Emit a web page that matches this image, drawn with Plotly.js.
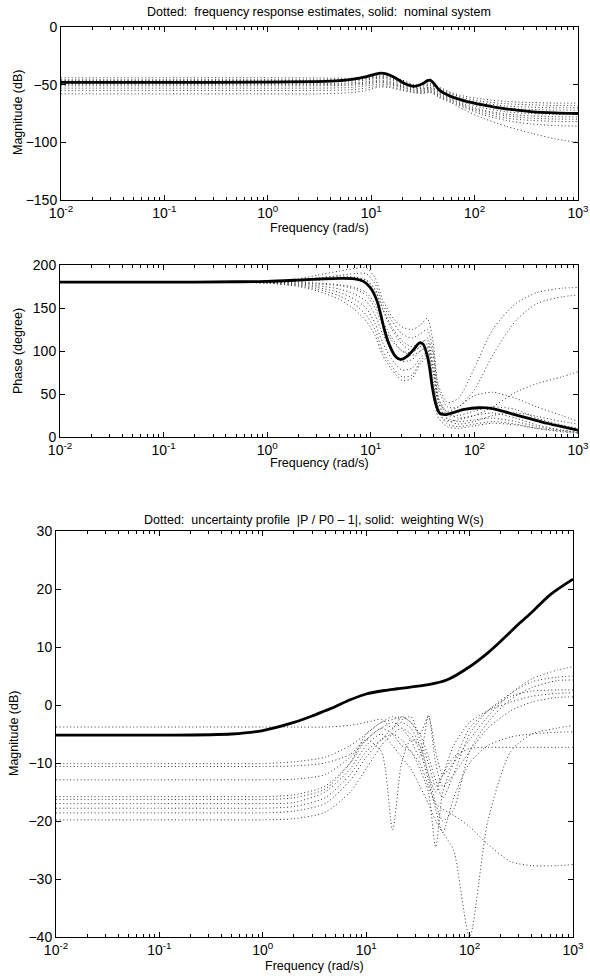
<!DOCTYPE html>
<html>
<head>
<meta charset="utf-8">
<script src="https://cdn.plot.ly/plotly-3.0.1.min.js"></script>
<style>html,body{margin:0;padding:0;background:#fff;}#chart{width:590px;height:980px;}</style>
</head>
<body>
<div id="chart"></div>
<script>
// ---------- Data: top panel (magnitude, dB) ----------
const magNomFreq = [0.01, 0.1, 1, 3, 5, 7, 9, 11, 12.5, 14, 17, 21, 26, 31, 35, 37, 40, 46, 60, 80, 120, 200, 350, 600, 1000];
const magNom = [-48, -48, -47.8, -47.3, -46.5, -45, -43, -40.8, -40, -40.7, -44, -49, -51.5, -49.5, -46.5, -46, -48.5, -55, -60.5, -64, -67.5, -71, -73.3, -74.5, -75];
const magEstFreq = [0.01, 0.1, 1, 3, 6, 9, 12, 15, 20, 26, 32, 37, 45, 60, 80, 120, 200, 350, 600, 1000];
const magEst1 = [-44, -44, -44, -44.2, -44.5, -43.5, -42, -42.5, -46, -50, -50, -49, -52, -57, -60, -62.5, -64.5, -65.5, -66, -66];
const magEst2 = [-45.7, -45.7, -45.7, -45.8, -45.5, -44.5, -43, -43.5, -47, -51, -51, -50, -53, -58, -61.5, -64.5, -66.5, -67.5, -68, -68];
const magEst3 = [-46.5, -46.5, -46.5, -46.5, -46, -45, -43.5, -44.5, -48, -52, -52, -50.5, -54, -59, -63, -66, -68.5, -69.5, -70, -70];
const magEst4 = [-47, -47, -47, -47, -47, -46, -44.5, -45.5, -49, -52.5, -53, -52, -55, -60, -64, -68, -70.5, -71.5, -72, -72];
const magEst5 = [-49, -49, -49, -49, -48.5, -47.5, -46, -47, -50, -53, -53.5, -52.5, -56, -61, -65.5, -70, -73.5, -75, -75.8, -76];
const magEst6 = [-50, -50, -50, -50, -49.5, -48.5, -47, -48, -51, -54, -54.5, -53, -57, -62, -67, -72, -75.5, -77, -77.8, -78];
const magEst7 = [-51, -51, -51, -51, -50.5, -49.5, -48, -49, -52, -55, -55, -54, -58, -63, -68, -73, -77, -79, -79.8, -80];
const magEst8 = [-53, -53, -53, -53, -52.5, -51, -49.5, -50, -52.5, -55.5, -56, -55, -59, -64, -69, -74.5, -79, -81, -81.8, -82];
const magEst9 = [-55, -55, -55, -55, -54.5, -53, -51, -51.5, -54, -56.5, -57, -56, -60, -65, -70, -76, -81, -84, -85.5, -86];
const magEst10 = [-58, -58, -58, -58, -57, -55, -52, -52.5, -55, -57, -57.5, -56.5, -61, -66, -72, -79, -86, -92, -97, -100];

// ---------- Data: middle panel (phase, degree) ----------
const phNomFreq = [0.01, 0.1, 0.5, 1, 2, 3, 5, 7, 8.5, 10, 11.5, 12.5, 13.5, 15, 17, 18.5, 20, 23, 26, 29.5, 32, 35, 37, 39, 42, 46, 52, 65, 80, 110, 150, 230, 350, 500, 700, 1000];
const phNom = [180, 180, 180.5, 181, 182.5, 183.5, 184.5, 184, 181, 173, 158, 142, 125, 108, 95, 91, 90.5, 95, 102, 109.5, 108, 95, 80, 60, 40, 28, 26, 29, 32, 34, 33, 27, 21, 16, 12, 8];
const phEstFreq = [0.01, 0.1, 0.5, 1, 2, 3, 5, 7, 9, 11, 13, 16, 20, 25, 30, 35, 40, 45, 55, 70, 100, 150, 250, 400, 700, 1000];
const phEst1 = [180, 180, 180, 181, 184, 188, 193, 196, 197, 185, 160, 140, 128, 125, 130, 138, 110, 60, 40, 45, 80, 125, 155, 168, 173, 174];
const phEst2 = [180, 180, 180, 180.5, 182, 184, 188, 190, 190, 178, 155, 135, 120, 115, 120, 125, 100, 55, 35, 35, 55, 95, 135, 155, 163, 165];
const phEst3 = [180, 180, 180, 180, 181, 182, 184, 185, 183, 172, 150, 128, 112, 105, 110, 112, 85, 45, 28, 22, 25, 35, 52, 62, 70, 76];
const phEst4 = [180, 180, 180, 180, 179, 178, 176, 172, 165, 150, 130, 112, 100, 98, 105, 108, 75, 40, 30, 35, 48, 52, 45, 35, 25, 18];
const phEst5 = [180, 180, 180, 180, 178, 176, 172, 166, 158, 142, 120, 100, 88, 90, 100, 103, 65, 35, 22, 18, 20, 22, 18, 12, 8, 6];
const phEst6 = [180, 180, 180, 179, 177, 174, 168, 160, 150, 132, 110, 90, 78, 80, 92, 98, 60, 30, 15, 12, 15, 18, 15, 10, 6, 4];
const phEst7 = [180, 180, 180, 179, 176, 172, 164, 154, 142, 125, 100, 82, 70, 72, 88, 95, 55, 28, 18, 20, 25, 28, 22, 14, 8, 5];
const phEst8 = [180, 180, 180, 179, 175, 170, 160, 148, 135, 118, 95, 78, 66, 68, 85, 92, 50, 22, 12, 10, 13, 16, 14, 10, 7, 5];
const phEst9 = [180, 180, 180, 181, 183, 185, 187, 186, 182, 170, 148, 125, 108, 100, 105, 115, 95, 45, 25, 25, 30, 35, 32, 22, 14, 10];
const phEst10 = [180, 180, 180, 180, 180, 179, 177, 174, 168, 155, 135, 115, 100, 95, 100, 105, 80, 40, 20, 15, 18, 25, 28, 24, 18, 15];

// ---------- Data: bottom panel (uncertainty, dB) ----------
const wFreq = [0.01, 0.1, 0.5, 1, 2, 3, 4, 5, 7, 10, 15, 20, 40, 60, 100, 150, 200, 300, 400, 600, 1000];
const wMag = [-5.2, -5.2, -5, -4.4, -3, -1.9, -1.0, -0.3, 0.9, 1.9, 2.5, 2.8, 3.5, 4.3, 6.6, 9, 11, 14, 16, 19, 21.7];
const uFreq = [0.01, 0.1, 0.5, 1, 2, 4, 7, 10, 14, 18, 22, 27, 33, 40, 47, 55, 70, 100, 150, 250, 400, 700, 1000];
const unc1 = [-3.8, -3.8, -3.8, -3.8, -3.8, -3.8, -3.5, -3, -2.5, -4, -2, -3, -5, -2, -8, -12, -10, -6, -2, 2, 4.5, 6, 6.6];
const unc2 = [-10.1, -10.1, -10.1, -10.1, -9.8, -9, -7, -5, -3, -2.5, -2, -3, -5, -9, -13, -16, -12, -5, -1, 2, 4, 4.8, 5];
const unc3 = [-10.6, -10.6, -10.6, -10.6, -10.5, -10, -8.5, -6, -8, -21.5, -10, -6, -7, -12, -17, -20, -18, -8, -3, 1, 3, 4.2, 4.3];
const unc4 = [-12.9, -12.9, -12.9, -12.9, -12.8, -12, -9, -6, -4, -5, -7, -8, -11, -15, -24.5, -15, -10, -4, -1, 1.5, 2.4, 2.6, 2.6];
const unc5 = [-15.8, -15.8, -15.8, -15.8, -15.5, -14, -10, -6, -4, -3, -4, -6, -9, -1.7, -10, -14, -12, -8, -4, -1, 0.5, 1.3, 1.4];
const unc6 = [-17, -17, -17, -17, -16.8, -15, -11, -7, -5, -7, -9, -11, -14, -17, -20, -22, -25, -40, -20, -8, -5, -4, -3.5];
const unc7 = [-17.8, -17.8, -17.8, -17.8, -17.5, -16, -12, -8, -6, -5, -6, -8, -10, -14, -17, -18, -19, -21, -24, -27, -27.7, -27.7, -27.5];
const unc8 = [-18.6, -18.6, -18.6, -18.6, -18.3, -17, -13, -9, -6, -4, -3, -4, -7, -12, -15, -12, -9, -7.5, -7.3, -7.3, -7.3, -7.3, -7.3];
const unc9 = [-19.8, -19.8, -19.8, -19.8, -19.6, -18.5, -15, -11, -7, -5, -4, -5, -8, -13, -18, -22, -16, -10, -7, -5.5, -5, -4.7, -4.6];
const unc10 = [-16.3, -16.3, -16.3, -16.3, -16, -14.5, -10, -5, -3, -2, -2.5, -2, -6, -10, -14, -12, -7, -3, -1, 0.5, 1.5, 2, 2.1];

// ---------- Axis labels ----------
const xTickVals = [0.01, 0.1, 1, 10, 100, 1000];
const xTickText = ['10<sup>-2</sup>', '10<sup>-1</sup>', '10<sup>0</sup>', '10<sup>1</sup>', '10<sup>2</sup>', '10<sup>3</sup>'];
const titleTop = 'Dotted:  frequency response estimates, solid:  nominal system';
const titleBottom = 'Dotted:  uncertainty profile  |P / P0 \u2013 1|, solid:  weighting W(s)';
const xLabel = 'Frequency (rad/s)';
const yLabelMag = 'Magnitude (dB)';
const yLabelPhase = 'Phase (degree)';

// ---------- Build ----------
const W = 590, H = 980;
const px = v => v / W;
const py = v => 1 - v / H;
const FONT = 'Liberation Sans, Arial, Helvetica, sans-serif';

const dotted = {color: '#333', width: 1, dash: '1px,2.5px'};
const solid = {color: '#000', width: 2.8};

function dotTrace(x, y, xa, ya) {
  return {x: x, y: y, xaxis: xa, yaxis: ya, mode: 'lines', type: 'scatter',
          line: Object.assign({shape: 'spline', smoothing: 0.7}, dotted), hoverinfo: 'skip'};
}
function solidTrace(x, y, xa, ya) {
  return {x: x, y: y, xaxis: xa, yaxis: ya, mode: 'lines', type: 'scatter',
          line: Object.assign({shape: 'spline', smoothing: 0.8}, solid), hoverinfo: 'skip'};
}

const traces = [];
[magEst1, magEst2, magEst3, magEst4, magEst5, magEst6, magEst7, magEst8, magEst9, magEst10]
  .forEach(s => traces.push(dotTrace(magEstFreq, s, 'x', 'y')));
traces.push(solidTrace(magNomFreq, magNom, 'x', 'y'));
[phEst1, phEst2, phEst3, phEst4, phEst5, phEst6, phEst7, phEst8, phEst9, phEst10]
  .forEach(s => traces.push(dotTrace(phEstFreq, s, 'x2', 'y2')));
traces.push(solidTrace(phNomFreq, phNom, 'x2', 'y2'));
[unc1, unc2, unc3, unc4, unc5, unc6, unc7, unc8, unc9, unc10]
  .forEach(s => traces.push(dotTrace(uFreq, s, 'x3', 'y3')));
traces.push(solidTrace(wFreq, wMag, 'x3', 'y3'));

// minor tick positions for the log axes
const minorVals = [];
for (let e = -2; e < 3; e++) for (let m = 2; m <= 9; m++) minorVals.push(m * Math.pow(10, e));

function xAxis(domain, anchor) {
  return {
    type: 'log', range: [-2, 3], domain: domain, anchor: anchor,
    tickmode: 'array', tickvals: xTickVals, ticktext: xTickText,
    ticks: 'inside', ticklen: 5, tickwidth: 1, tickcolor: '#000',
    minor: {tickmode: 'array', tickvals: minorVals, ticks: 'inside', ticklen: 3, tickcolor: '#000', showgrid: false},
    showline: true, linecolor: '#000', linewidth: 1, mirror: 'ticks',
    showgrid: false, zeroline: false, fixedrange: true,
    tickfont: {family: FONT, size: 14, color: '#000'}
  };
}
function yAxis(domain, anchor, range, dtick) {
  return {
    range: range, domain: domain, anchor: anchor, dtick: dtick, tick0: 0,
    ticks: 'inside', ticklen: 5, tickwidth: 1, tickcolor: '#000',
    showline: true, linecolor: '#000', linewidth: 1, mirror: 'ticks',
    showgrid: false, zeroline: false, fixedrange: true,
    tickfont: {family: FONT, size: 14, color: '#000'}
  };
}

function ann(text, x, y, size, angle) {
  return {text: text, xref: 'paper', yref: 'paper', x: px(x), y: py(y),
          xanchor: 'center', yanchor: 'middle', showarrow: false, textangle: angle || 0,
          font: {family: FONT, size: size, color: '#000'}};
}

const layout = {
  width: W, height: H,
  margin: {l: 0, r: 0, t: 0, b: 0},
  paper_bgcolor: '#fff', plot_bgcolor: '#fff',
  showlegend: false,
  xaxis: xAxis([px(61), px(578)], 'y'),
  yaxis: yAxis([py(200), py(27)], 'x', [-150, 0], 50),
  xaxis2: xAxis([px(60), px(578)], 'y2'),
  yaxis2: yAxis([py(437), py(265)], 'x2', [0, 200], 50),
  xaxis3: xAxis([px(56), px(573)], 'y3'),
  yaxis3: yAxis([py(937), py(531)], 'x3', [-40, 30], 10),
  annotations: [
    ann(titleTop, 319, 12, 12.5),
    ann(xLabel, 319, 228, 12.5),
    ann(yLabelMag, 18, 113, 12.5, -90),
    ann(xLabel, 319, 463, 12.5),
    ann(yLabelPhase, 18, 351, 12.5, -90),
    ann(titleBottom, 314, 520, 12.5),
    ann(xLabel, 314, 966, 12.5),
    ann(yLabelMag, 14, 734, 12.5, -90)
  ]
};

Plotly.newPlot('chart', traces, layout, {staticPlot: true, displayModeBar: false});
</script>
</body>
</html>
